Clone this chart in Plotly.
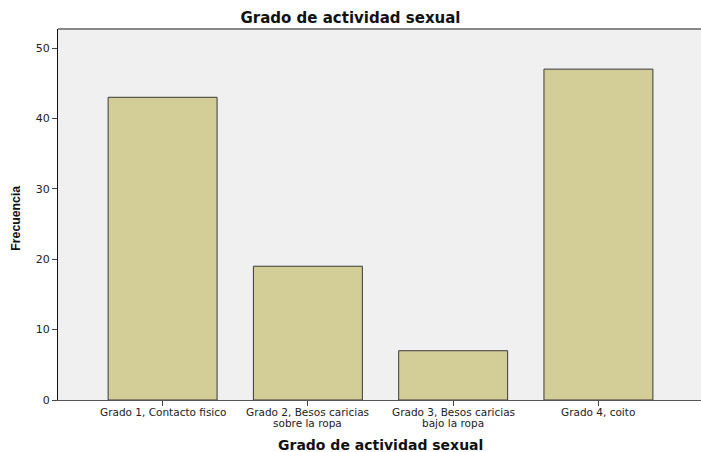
import plotly.graph_objects as go

categorias = [
    "Grado 1, Contacto fisico",
    "Grado 2, Besos caricias<br>sobre la ropa",
    "Grado 3, Besos caricias<br>bajo la ropa",
    "Grado 4, coito",
]
frecuencias = [43, 19, 7, 47]
y_ticks = [0, 10, 20, 30, 40, 50]

TICK_FONT = "DejaVu Sans, Verdana, sans-serif"

fig = go.Figure()
fig.add_trace(go.Bar(
    x=categorias,
    y=frecuencias,
    width=0.75,
    marker=dict(color="#d3ce97", line=dict(color="#3a3a3a", width=1)),
))

fig.update_layout(
    width=701, height=452,
    margin=dict(l=58, r=0, t=29, b=52),
    paper_bgcolor="white",
    plot_bgcolor="#f0f0f0",
    font=dict(family=TICK_FONT, color="#222", size=11),
    title=dict(text="<b>Grado de actividad sexual</b>", xref="container", x=0.5, xanchor="center",
               yref="container", y=0.96, yanchor="middle",
               font=dict(family=TICK_FONT, size=15, color="#111")),
    showlegend=False,
)
fig.update_xaxes(
    range=[-0.72, 3.706],
    automargin=False,
    showline=True, linecolor="#555", linewidth=1,
    ticks="outside", ticklen=5, tickcolor="#444",
    showgrid=False, showticklabels=False,
)
fig.update_yaxes(
    range=[0, 52.7],
    automargin=False,
    tickvals=y_ticks,
    showline=True, linecolor="#111", linewidth=1,
    ticks="outside", ticklen=5, tickcolor="#444",
    showgrid=False, zeroline=False,
    tickfont=dict(family=TICK_FONT, size=11, color="#222"),
)

# category labels, one annotation per line so the lines sit close together
for cat in categorias:
    for i, linea in enumerate(cat.split("<br>")):
        fig.add_annotation(text=linea, x=cat, xref="x", yref="paper", y=-0.032 - 0.031 * i,
                           xanchor="center", yanchor="middle", showarrow=False,
                           font=dict(family=TICK_FONT, size=10.5, color="#222"))

fig.add_annotation(text="<b>Grado de actividad sexual</b>", xref="paper", yref="paper",
                   x=0.502, y=-0.121, xanchor="center", yanchor="middle", showarrow=False,
                   font=dict(family=TICK_FONT, size=14, color="#111"))
fig.add_annotation(text="<b>Frecuencia</b>", xref="paper", yref="paper", textangle=-90,
                   x=-0.0645, y=0.49, xanchor="center", yanchor="middle", showarrow=False,
                   font=dict(family="Liberation Sans, Arial, sans-serif", size=12.3, color="#111"))
fig.add_shape(type="line", xref="paper", yref="paper", x0=0, x1=1, y0=1, y1=1,
              line=dict(color="#888", width=2))

fig.write_html("out.html", config={"displayModeBar": False},
               post_script="document.body.style.margin='0';")
